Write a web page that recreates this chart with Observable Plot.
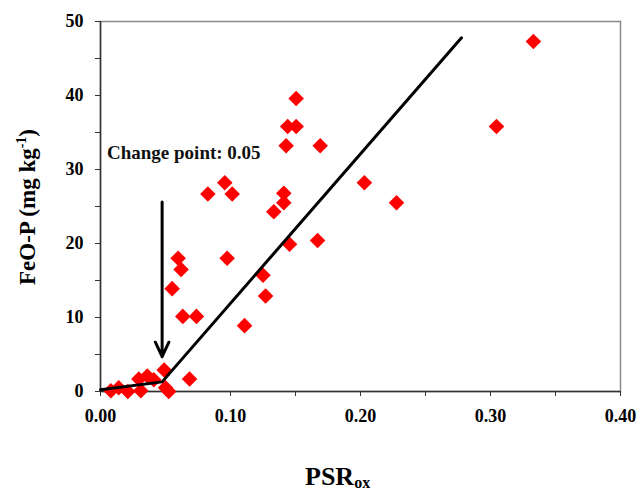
<!DOCTYPE html>
<html>
<head>
<meta charset="utf-8">
<script src="https://cdn.jsdelivr.net/npm/d3@7"></script>
<script src="https://cdn.jsdelivr.net/npm/@observablehq/plot@0.6"></script>
<style>
  html, body { margin: 0; padding: 0; background: #fff; }
</style>
</head>
<body>
<div id="chart"></div>
<script>
// PSRox (x) and FeO-P in mg/kg (y)
const psr = [0.333, 0.3046, 0.1505, 0.144, 0.1505, 0.1428, 0.169, 0.141, 0.141, 0.203, 0.2277,
  0.0826, 0.0956, 0.1013, 0.1333, 0.1454, 0.167, 0.0597, 0.062, 0.0974, 0.125, 0.0551, 0.127,
  0.0633, 0.0738, 0.1108,
  0.008, 0.014, 0.021, 0.031, 0.0295, 0.036, 0.041, 0.049, 0.050, 0.0525, 0.0685];
const feoP = [47.3, 35.8, 39.6, 35.8, 35.8, 33.2, 33.2, 26.8, 25.5, 28.2, 25.5,
  26.7, 28.2, 26.7, 24.3, 19.9, 20.4, 18.0, 16.5, 18.0, 15.7, 13.9, 12.9,
  10.15, 10.15, 8.9,
  0.1, 0.5, 0.0, 0.1, 1.7, 2.1, 1.6, 2.9, 0.5, 0.0, 1.7];

// Piecewise (change point) fit line
const fitX = [0.0, 0.0474, 0.2777];
const fitY = [0.25, 1.3, 47.8];

// Change-point arrow and annotation
const arrowX = [0.0474, 0.0474];
const arrowY = [25.6, 4.7];
const noteText = "Change point: 0.05";
const noteX = 0.005;
const noteY = 32.3;

// Axis ticks
const xMinorTicks = [0, 0.05, 0.1, 0.15, 0.2, 0.25, 0.3, 0.35, 0.4];
const xTickValues = [0, 0.1, 0.2, 0.3, 0.4];
const xTickLabels = ["0.00", "0.10", "0.20", "0.30", "0.40"];
const yMinorTicks = [0, 5, 10, 15, 20, 25, 30, 35, 40, 45, 50];
const yTickValues = [0, 10, 20, 30, 40, 50];
const yTickLabels = ["0", "10", "20", "30", "40", "50"];

const points = psr.map((x, i) => ({x, y: feoP[i]}));
const fit = fitX.map((x, i) => ({x, y: fitY[i]}));
const arrow = [{x1: arrowX[0], y1: arrowY[0], x2: arrowX[1], y2: arrowY[1]}];

const serif = "'Liberation Serif', 'Times New Roman', 'DejaVu Serif', serif";

const chart = Plot.plot({
  width: 639,
  height: 491,
  marginLeft: 100,
  marginRight: 19,
  marginTop: 21,
  marginBottom: 100,
  style: {fontFamily: serif, fontSize: "18px", fontWeight: "bold", color: "#000", background: "#fff", overflow: "visible"},
  x: {domain: [0, 0.4], label: null},
  y: {domain: [0, 50], label: null},
  marks: [
    Plot.frame({stroke: "#8a8a8a", strokeWidth: 1.5}),
    Plot.axisX(xMinorTicks, {tickSize: 5, tickFormat: () => "", stroke: "#333", label: null}),
    Plot.axisX(xTickValues, {tickSize: 0, tickPadding: 18, tickFormat: (d, i) => xTickLabels[i], label: null, fill: "#000"}),
    Plot.axisY(yMinorTicks, {tickSize: 5, tickFormat: () => "", stroke: "#333", label: null}),
    Plot.axisY(yTickValues, {tickSize: 0, tickPadding: 17, tickFormat: (d, i) => yTickLabels[i], label: null, fill: "#000"}),
    Plot.ruleY([0], {stroke: "#333", strokeWidth: 1.5}),
    Plot.ruleX([0], {stroke: "#333", strokeWidth: 1.5}),
    Plot.dot(points, {x: "x", y: "y", symbol: "diamond2", r: 7, fill: "#ff0000", stroke: "none"}),
    Plot.line(fit, {x: "x", y: "y", stroke: "#000", strokeWidth: 3}),
    Plot.arrow(arrow, {x1: "x1", y1: "y1", x2: "x2", y2: "y2", stroke: "#000", strokeWidth: 3, headLength: 8, headAngle: 50}),
    Plot.text([noteText], {x: noteX, y: noteY, text: d => d, textAnchor: "start", lineAnchor: "middle", fontSize: 19, fontWeight: "bold", fill: "#111"})
  ]
});

const svg = d3.select(chart);

// Y-axis title with superscript
const yt = svg.append("text")
  .attr("transform", "translate(35,207) rotate(-90)")
  .attr("text-anchor", "middle")
  .attr("font-family", serif)
  .attr("font-size", 23)
  .attr("font-weight", "bold")
  .attr("fill", "#000");
yt.append("tspan").text("FeO-P (mg kg");
yt.append("tspan").attr("font-size", 14).attr("dy", -9).text("-1");
yt.append("tspan").attr("dy", 9).text(")");

// X-axis title with subscript
const xt = svg.append("text")
  .attr("x", 305)
  .attr("y", 485)
  .attr("text-anchor", "start")
  .attr("font-family", serif)
  .attr("font-size", 26)
  .attr("font-weight", "bold")
  .attr("fill", "#000");
xt.append("tspan").text("PSR");
xt.append("tspan").attr("font-size", 16).attr("dy", 3).text("ox");

document.getElementById("chart").appendChild(chart);
</script>
</body>
</html>
